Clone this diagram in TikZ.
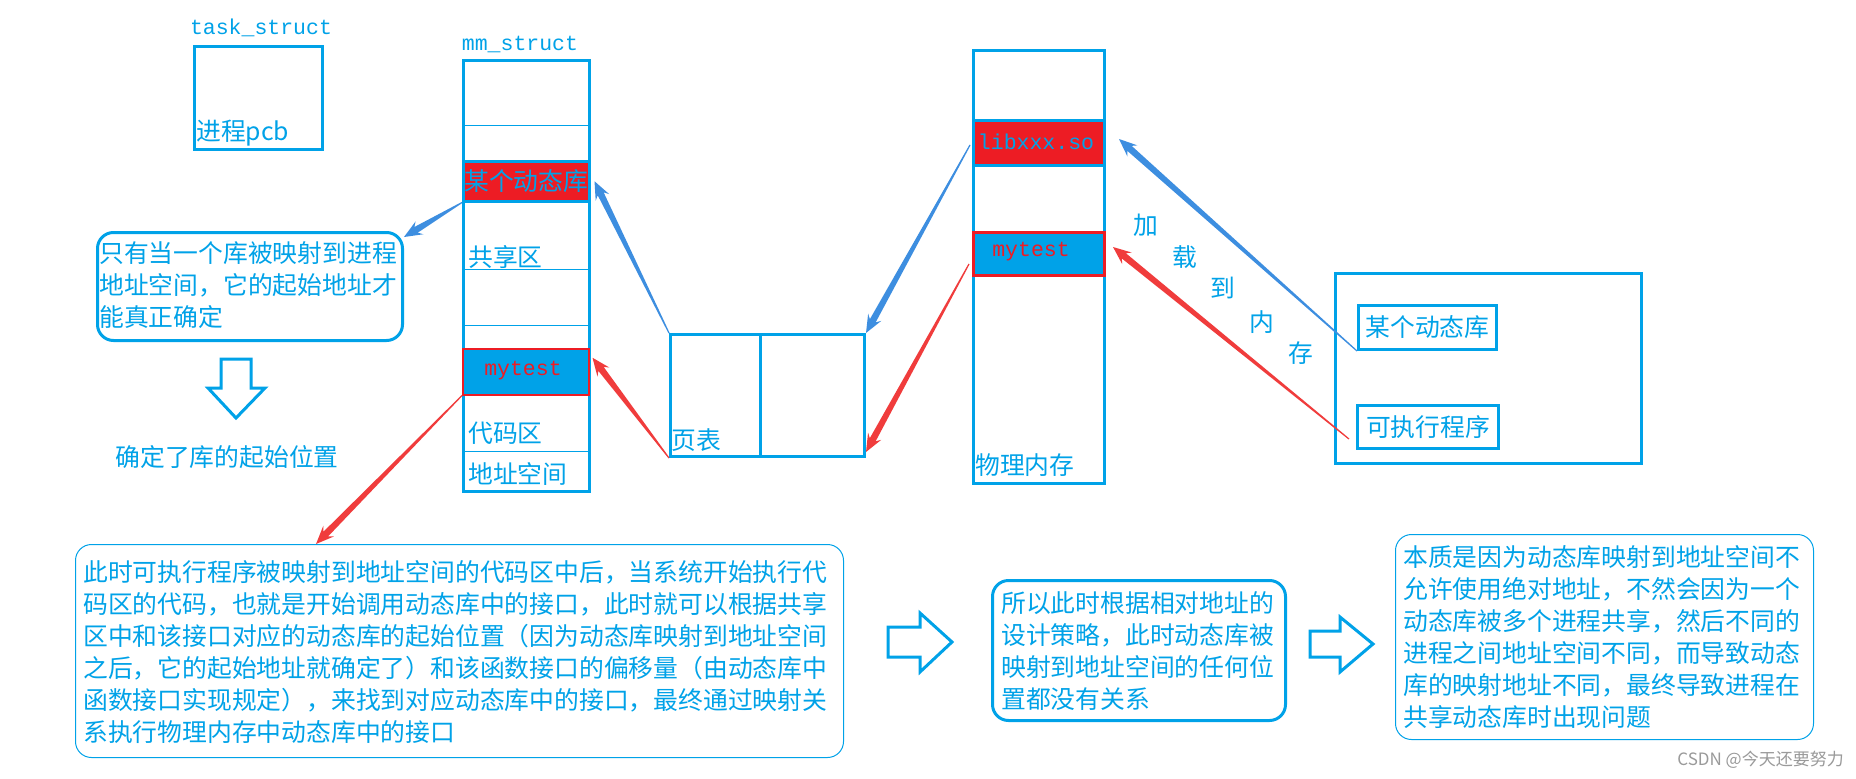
\documentclass[tikz,border=0pt]{standalone}
\usepackage{fontspec}
\setmainfont{Noto Sans CJK SC}
\newfontfamily\monofnt{Liberation Mono}
\usetikzlibrary{arrows.meta,calc}
\definecolor{lb}{HTML}{00A2E8}
\definecolor{rd}{HTML}{ED1C24}
\definecolor{ab}{HTML}{3D8EE0}
\definecolor{ar}{HTML}{F03C3C}
\definecolor{wm}{HTML}{9A9A9A}
\tikzset{
 box/.style={draw=lb, line width=3pt, inner sep=0pt, anchor=north west},
 thinline/.style={draw=lb, line width=1pt},
 cjk/.style={text=lb, font=\fontsize{24.8}{32}\selectfont, inner sep=0pt},
 mono/.style={text=lb, font=\monofnt\fontsize{21.5}{24}\selectfont, inner sep=0pt},
 para/.style={cjk, align=left, anchor=north west},
 rbox/.style={draw=lb, rounded corners=16pt, anchor=north west, inner sep=0pt},
 hollow/.style={draw=lb, line width=3pt, line join=miter},
}
% tapered paint-style arrow: #1 start, #2 tip, #3 colour
\newcommand\taper[3]{%
 \path (#1) coordinate (tS) (#2) coordinate (tT);
 \path ($(tT)!14pt!(tS)$) coordinate (tN) ($(tT)!18pt!(tS)$) coordinate (tW);
 \fill[#3] ($(tS)!0.6pt!90:(tT)$) -- ($(tN)!3.3pt!90:(tT)$) -- ($(tW)!7.5pt!90:(tT)$) -- (tT)
   -- ($(tW)!7.5pt!-90:(tT)$) -- ($(tN)!3.3pt!-90:(tT)$) -- ($(tS)!0.6pt!-90:(tT)$) -- cycle;
}
\begin{document}
\begin{tikzpicture}[x=1pt,y=-1pt]
\useasboundingbox (0,0) rectangle (1856,779);
\fill[white] (0,0) rectangle (1856,779);

% task_struct
\node[mono] (tasklbl) at (261,28) {task\_struct};
\node[box, minimum width=128pt, minimum height=103pt] (task) at (193,45) {};
\node[cjk, anchor=west] (pcb) at (196,133) {进程pcb};

% mm_struct
\node[mono] (mmlbl) at (520,44) {mm\_struct};
\node[box, minimum width=126pt, minimum height=431pt] (mm) at (462,59) {};
\draw[thinline] (462,125) -- (588,125);
\draw[thinline] (462,269) -- (588,269);
\draw[thinline] (462,325) -- (588,325);
\draw[thinline] (462,451) -- (588,451);
\node[box, fill=rd, line width=2.5pt, minimum width=126pt, minimum height=40pt] (mmlib) at (462,160) {};
\node[cjk] (mmlibtxt) at (mmlib.center) {某个动态库};
\node[cjk, anchor=west] (share) at (468,257) {共享区};
\node[box, draw=rd, fill=lb, line width=1.5pt, minimum width=126pt, minimum height=46pt] (mmtest) at (462,348) {};
\node[mono, text=rd] (mmtesttxt) at (523,371) {mytest};
\node[cjk, anchor=west] (code) at (468,433) {代码区};
\node[cjk, anchor=west] (addr) at (468,474) {地址空间};

% page table
\node[box, minimum width=194pt, minimum height=122pt] (pt) at (669,333) {};
\draw[lb, line width=3pt] (760,333) -- (760,455);
\node[cjk, anchor=west] (pttxt) at (671,440) {页表};

% physical memory
\node[box, minimum width=131pt, minimum height=433pt] (pm) at (972,49) {};
\node[box, fill=rd, minimum width=131pt, minimum height=45pt] (pmlib) at (972,119) {};
\node[mono] (pmlibtxt) at (1036,142) {libxxx.so};
\node[box, draw=rd, fill=lb, minimum width=131pt, minimum height=43pt] (pmtest) at (972,231) {};
\node[mono, text=rd] (pmtesttxt) at (1031,252) {mytest};
\node[cjk, anchor=west] (pmtxt) at (975,465) {物理内存};

% disk container
\node[box, minimum width=306pt, minimum height=190pt] (disk) at (1334,272) {};
\node[box, minimum width=138pt, minimum height=44pt] (dlib) at (1357,304) {};
\node[cjk] (dlibtxt) at (dlib.center) {某个动态库};
\node[box, minimum width=141pt, minimum height=43pt] (dexe) at (1356,404) {};
\node[cjk] (dexetxt) at (dexe.center) {可执行程序};

% load to memory
\node[cjk] (c1) at (1146,225) {加};
\node[cjk] (c2) at (1185,257) {载};
\node[cjk] (c3) at (1223,288) {到};
\node[cjk] (c4) at (1262,322) {内};
\node[cjk] (c5) at (1301,353) {存};

% box 1
\node[rbox, line width=3pt, minimum width=305pt, minimum height=108pt] (b1) at (96,231) {};
\node[para] (b1t) at (99,241) {只有当一个库被映射到进程\\地址空间，它的起始地址才\\能真正确定};

% down arrow
\draw[hollow] (221,359) -- (251,359) -- (251,388) -- (265,388) -- (236,418) -- (208,388) -- (221,388) -- cycle;
\node[cjk] (fixed) at (227,457) {确定了库的起始位置};

% box 4
\node[rbox, line width=1pt, minimum width=768pt, minimum height=213pt] (b4) at (75,544) {};
\node[para] (b4t) at (83,560) {此时可执行程序被映射到地址空间的代码区中后，当系统开始执行代\\码区的代码，也就是开始调用动态库中的接口，此时就可以根据共享\\区中和该接口对应的动态库的起始位置（因为动态库映射到地址空间\\之后，它的起始地址就确定了）和该函数接口的偏移量（由动态库中\\函数接口实现规定），来找到对应动态库中的接口，最终通过映射关\\系执行物理内存中动态库中的接口};

% hollow right arrows
\draw[hollow] (888,627) -- (920,627) -- (920,613) -- (952,642) -- (920,672) -- (920,657) -- (888,657) -- cycle;
\draw[hollow] (1310,631) -- (1340,631) -- (1340,617) -- (1373,644) -- (1340,672) -- (1340,657) -- (1310,657) -- cycle;

% box 2
\node[rbox, line width=3pt, minimum width=293pt, minimum height=140pt] (b2) at (991,579) {};
\node[para] (b2t) at (1001,591) {所以此时根据相对地址的\\设计策略，此时动态库被\\映射到地址空间的任何位\\置都没有关系};

% box 3
\node[rbox, line width=1pt, minimum width=418pt, minimum height=205pt] (b3) at (1395,534) {};
\node[para] (b3t) at (1403,545) {本质是因为动态库映射到地址空间不\\允许使用绝对地址，不然会因为一个\\动态库被多个进程共享，然后不同的\\进程之间地址空间不同，而导致动态\\库的映射地址不同，最终导致进程在\\共享动态库时出现问题};

% watermark
\node[text=wm, font=\fontsize{17}{20}\selectfont, anchor=east, inner sep=0pt] (wmk) at (1844,760) {CSDN @今天还要努力};

% connectors
\taper{mmlib.south west}{[yshift=-6pt]b1.north east}{ab}
\taper{mmtest.south west}{[xshift=241pt]b4.north west}{ar}
\taper{pt.north west}{[xshift=4pt]mmlib.east}{ab}
\taper{pt.south west}{[xshift=3pt,yshift=14pt]mmtest.east}{ar}
\taper{[xshift=-2pt,yshift=-2pt]pmlib.west}{pt.north east}{ab}
\taper{[xshift=-3pt,yshift=-10pt]pmtest.west}{[yshift=6pt]pt.south east}{ar}
\taper{dlib.south west}{[xshift=13pt,yshift=4pt]pmlib.east}{ab}
\taper{[xshift=-7pt,yshift=-12pt]dexe.west}{[xshift=7pt,yshift=7pt]pmtest.east}{ar}
\end{tikzpicture}
\end{document}
